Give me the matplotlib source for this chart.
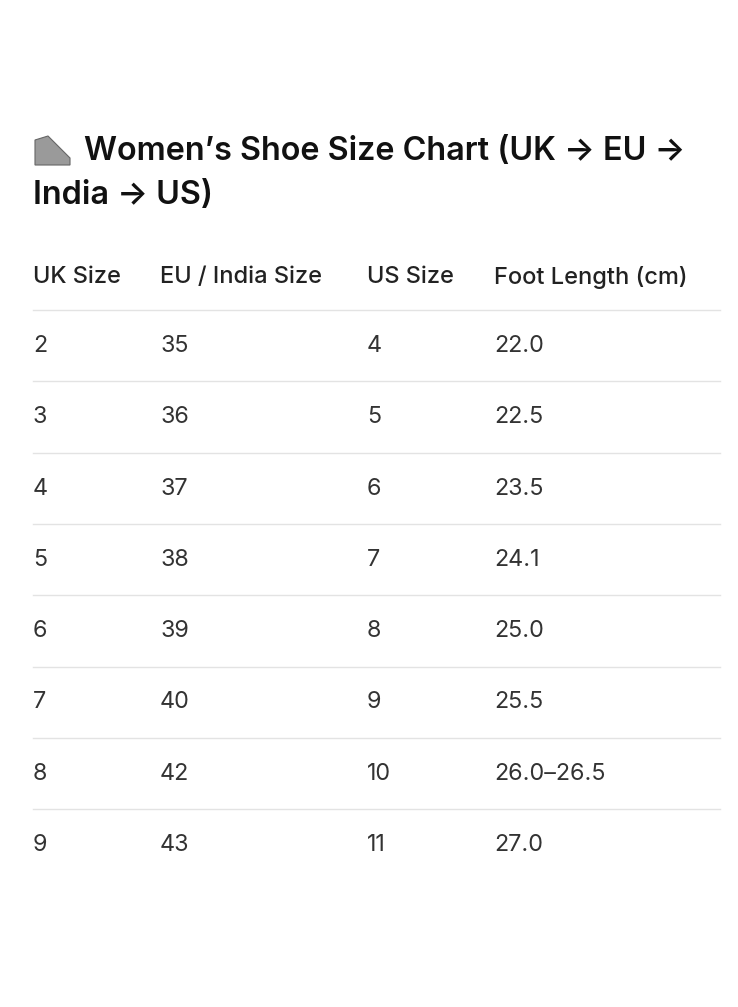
import matplotlib
matplotlib.use("Agg")
import matplotlib.pyplot as plt
from matplotlib.lines import Line2D

plt.rcParams['font.family'] = ['Inter', 'DejaVu Sans']

headers = ["UK Size", "EU / India Size", "US Size", "Foot Length (cm)"]
uk = ["2", "3", "4", "5", "6", "7", "8", "9"]
eu = ["35", "36", "37", "38", "39", "40", "42", "43"]
us = ["4", "5", "6", "7", "8", "9", "10", "11"]
foot = ["22.0", "22.5", "23.5", "24.1", "25.0", "25.5", "26.0\u201326.5", "27.0"]

W, H = 738, 1007
fig = plt.figure(figsize=(W/100, H/100), dpi=100)
fig.patch.set_facecolor('white')

def T(x, y, s, **kw):
    fig.text(x/W, 1 - y/H, s, va='center', ha='left', **kw)

# small shoe-like icon
fig.patches.append(matplotlib.patches.Polygon(
    [((35)/W, 1-160/H), (35/W, 1-140/H), (48/W, 1-136/H), (70/W, 1-158/H), (70/W, 1-165/H), (35/W, 1-165/H)],
    closed=True, transform=fig.transFigure, facecolor='#9a9a9a', edgecolor='#666', lw=0.8))

T(84, 151, "Women\u2019s Shoe Size Chart (UK \u2192 EU \u2192", fontsize=23.3, fontweight='semibold', color='#111')
T(33, 196, "India \u2192 US)", fontsize=23.3, fontweight='semibold', color='#111')

xs = [33, 160, 367, 494]
for x, h in zip(xs, headers):
    T(x, 277, h, fontsize=17, color='#222', fontweight='medium')

y0, dy = 346, 71.3
for i, row in enumerate(zip(uk, eu, us, foot)):
    y = y0 + i*dy
    for x, v in zip(xs, row):
        T(x, y, v, fontsize=16.8, color='#333')
for i in range(8):
    y = 310 + i*dy
    fig.add_artist(Line2D([33/W, 720/W], [1-y/H, 1-y/H], color='#e3e3e3', lw=1, transform=fig.transFigure))

fig.savefig("out.png", dpi=100, facecolor='white')
